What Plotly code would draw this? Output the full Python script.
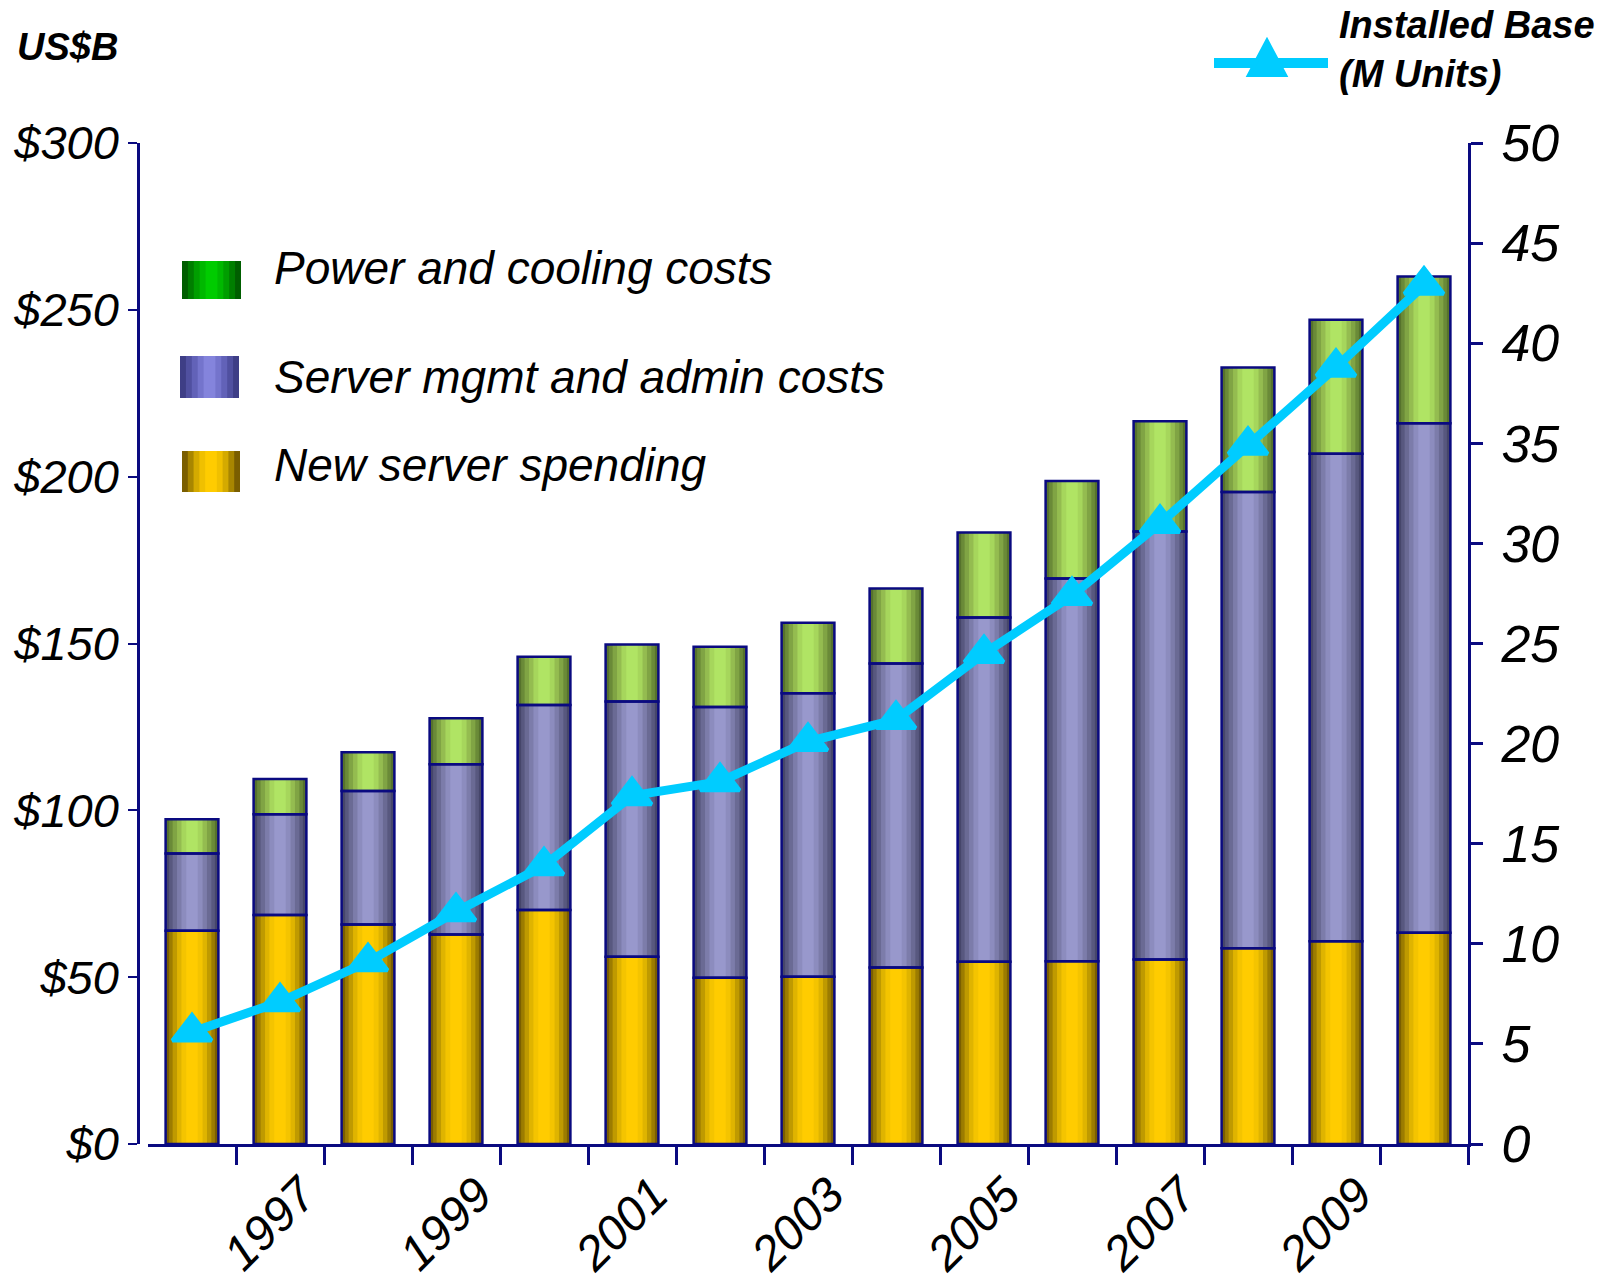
import plotly.graph_objects as go

# ---------------- data ----------------
years = list(range(1996, 2011))
new_server = [63.9, 68.6, 65.8, 62.8, 70.1, 56.1, 49.8, 50.1, 52.9, 54.6, 54.8, 55.3, 58.7, 60.8, 63.3]
mgmt_admin = [23.2, 30.2, 40.0, 51.0, 61.5, 76.5, 81.2, 85.0, 91.1, 103.2, 114.7, 128.3, 136.7, 146.1, 152.7]
power_cooling = [10.2, 10.6, 11.6, 13.8, 14.4, 17.1, 18.0, 21.1, 22.5, 25.5, 29.2, 33.0, 37.3, 40.1, 44.0]
installed_base = [5.6, 7.1, 9.1, 11.6, 13.9, 17.4, 18.1, 20.1, 21.2, 24.5, 27.4, 31.0, 34.9, 38.8, 42.9]

left_tickvals = [0, 50, 100, 150, 200, 250, 300]
left_ticktext = ["$0", "$50", "$100", "$150", "$200", "$250", "$300"]
right_tickvals = [0, 5, 10, 15, 20, 25, 30, 35, 40, 45, 50]
x_label_years = [1997, 1999, 2001, 2003, 2005, 2007, 2009]
x_boundaries = [y + 0.5 for y in years]

series_names = ["New server spending", "Server mgmt and admin costs", "Power and cooling costs"]

# ---------------- styling ----------------
W, H = 1602, 1283
PL, PR, PT, PB = 138, 1468, 143, 1144  # plot area in pixels
NAVY = "#0a0a80"
FONT = "Liberation Sans, Arial, sans-serif"
CYAN = "#00ccff"

# gradient layers (outer -> center) for cylinder look
yellow_layers = ["#7a5e00", "#9c7c00", "#bf9a00", "#dfb400", "#f4c400", "#ffcc00"]
purple_layers = ["#46466a", "#58587f", "#6a6a94", "#7c7caa", "#8c8cbe", "#9898cc"]
green_layers = ["#56722c", "#6a8a38", "#80a444", "#94bc50", "#a6d65c", "#b0e464"]
layer_widths = [0.6, 0.52, 0.44, 0.34, 0.24, 0.13]


def px(x):
    return (x - PL) / (PR - PL)


def py(y):
    return (PB - y) / (PB - PT)


fig = go.Figure()

bases = [
    [0] * len(years),
    new_server,
    [a + b for a, b in zip(new_server, mgmt_admin)],
]
values = [new_server, mgmt_admin, power_cooling]
palettes = [yellow_layers, purple_layers, green_layers]

for name, vals, base, pal in zip(series_names, values, bases, palettes):
    for i, (w, c) in enumerate(zip(layer_widths, pal)):
        fig.add_trace(go.Bar(
            x=years, y=vals, base=base, width=w, name=name,
            marker=dict(color=c, line=dict(width=0)),
            showlegend=False, hoverinfo=None if i == 0 else "skip",
        ))
# outlines
for name, vals, base in zip(series_names, values, bases):
    fig.add_trace(go.Bar(
        x=years, y=vals, base=base, width=layer_widths[0], name=name,
        marker=dict(color="rgba(0,0,0,0)", line=dict(color=NAVY, width=2.5)),
        showlegend=False, hoverinfo="skip",
    ))

fig.add_trace(go.Scatter(
    x=years, y=installed_base, yaxis="y2", mode="lines+markers",
    name="Installed Base (M Units)",
    line=dict(color=CYAN, width=9),
    marker=dict(symbol="triangle-up", size=34, color=CYAN, line=dict(color=CYAN, width=4)),
    showlegend=False,
))

fig.update_layout(
    template="none",
    width=W, height=H,
    margin=dict(l=PL, r=W - PR, t=PT, b=H - PB, pad=0, autoexpand=False),
    paper_bgcolor="white", plot_bgcolor="white",
    barmode="overlay",
    font=dict(family=FONT, color="black"),
    xaxis=dict(
        domain=[px(148), 1], range=[1995.5, 2010.5], automargin=False,
        showline=True, linecolor=NAVY, linewidth=3,
        tickmode="array", tickvals=x_label_years, ticktext=[str(y) for y in x_label_years],
        ticks="", tickangle=-45, ticklabelshift=22, ticklabelstandoff=0,
        tickfont=dict(size=48, style="italic", family=FONT),
        minor=dict(tickmode="array", tickvals=x_boundaries, ticks="outside", ticklen=18,
                   tickwidth=2.5, tickcolor=NAVY, showgrid=False),
        showgrid=False, zeroline=False, anchor="y",
    ),
    yaxis=dict(
        range=[0, 300], anchor="free", position=0, automargin=False,
        tickmode="array", tickvals=left_tickvals, ticktext=left_ticktext,
        ticks="outside", ticklen=9, tickwidth=2, tickcolor=NAVY,
        showline=True, linecolor=NAVY, linewidth=2.5,
        tickfont=dict(size=47, style="italic", family=FONT),
        showgrid=False, zeroline=False,
    ),
    yaxis2=dict(
        range=[0, 50], overlaying="y", side="right", anchor="x", automargin=False,
        tickmode="array", tickvals=right_tickvals,
        ticks="outside", ticklen=12, tickwidth=2.5, tickcolor=NAVY,
        showline=True, linecolor=NAVY, linewidth=3,
        tickfont=dict(size=52, style="italic", family=FONT), ticklabelstandoff=8,
        showgrid=False, zeroline=False,
    ),
    yaxis3=dict(
        range=[0, 50], overlaying="y", side="right", anchor="x", automargin=False,
        tickmode="array", tickvals=right_tickvals,
        ticks="inside", ticklen=12, tickwidth=2.5, tickcolor=NAVY,
        showticklabels=False, showline=False, showgrid=False, zeroline=False,
    ),
)

shapes = []


def swatch(x0, x1, y0, y1, cols):
    n = len(cols)
    wfull = x1 - x0
    cx = (x0 + x1) / 2
    for i, c in enumerate(cols):
        half = wfull / 2 * (1 - i / n)
        shapes.append(dict(type="rect", xref="paper", yref="paper",
                           x0=px(cx - half), x1=px(cx + half), y0=py(y1), y1=py(y0),
                           fillcolor=c, line=dict(width=0), layer="above"))


swatch(182, 241, 261, 299, ["#005e00", "#007e00", "#009e00", "#00b800", "#00cc00"])
swatch(180, 239, 356, 398, ["#3e3e86", "#5050a0", "#6262b8", "#7474cc", "#8484dc"])
swatch(182, 240, 451, 492, ["#7a5e00", "#a88600", "#d4aa00", "#f0c000", "#ffcc00"])

# line legend symbol
shapes.append(dict(type="line", xref="paper", yref="paper",
                   x0=px(1214), x1=px(1328), y0=py(63), y1=py(63),
                   line=dict(color=CYAN, width=10), layer="above"))
shapes.append(dict(type="path", xref="paper", yref="paper",
                   path=f"M {px(1267)} {py(41)} L {px(1249)} {py(75)} L {px(1285)} {py(75)} Z",
                   fillcolor=CYAN, line=dict(color=CYAN, width=4), layer="above"))

fig.update_layout(shapes=shapes)

ann = [
    dict(text="<b><i>US$B</i></b>", x=px(15), y=py(47), xanchor="left", yanchor="middle",
         font=dict(size=38, family=FONT)),
    dict(text="<b><i>Installed Base<br>(M Units)</i></b>", x=px(1337), y=py(49),
         xanchor="left", yanchor="middle", align="left", font=dict(size=38, family=FONT)),
    dict(text="<i>Power and cooling costs</i>", x=px(272), y=py(268), xanchor="left",
         yanchor="middle", font=dict(size=46, family=FONT)),
    dict(text="<i>Server mgmt and admin costs</i>", x=px(272), y=py(377), xanchor="left",
         yanchor="middle", font=dict(size=46, family=FONT)),
    dict(text="<i>New server spending</i>", x=px(272), y=py(465), xanchor="left",
         yanchor="middle", font=dict(size=46, family=FONT)),
]
for a in ann:
    a.update(xref="paper", yref="paper", showarrow=False)
fig.update_layout(annotations=ann)

fig.write_html("out.html", config={"displayModeBar": False},
               post_script="document.body.style.margin='0';document.body.style.overflow='hidden';")
